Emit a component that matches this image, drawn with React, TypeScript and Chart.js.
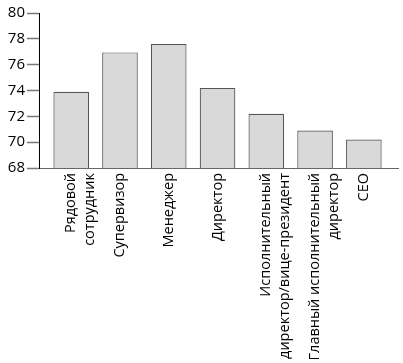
import React, { useEffect, useRef } from "react";
import { Chart, registerables } from "chart.js";

Chart.register(...registerables);

const categories: (string | string[])[] = [
  ["Рядовой", "сотрудник"],
  "Супервизор",
  "Менеджер",
  "Директор",
  ["Исполнительный", "директор/вице-президент"],
  ["Главный исполнительный", "директор"],
  "CEO",
];
const values = [73.9, 76.95, 77.6, 74.2, 72.2, 70.9, 70.2];
const yTicks = [68, 70, 72, 74, 76, 78, 80];

const LINE_H = 19;

// Centre multi-line rotated labels on their bars (Chart.js starts the first line at the tick).
const centerLabels = {
  id: "centerLabels",
  beforeDatasetsDraw(chart: any) {
    const scale = chart.scales.x;
    const items = scale.getLabelItems();
    items.forEach((it: any) => {
      if (it._centred) return;
      const n = Array.isArray(it.label) ? it.label.length : 1;
      it.textOffset -= ((n - 1) * LINE_H) / 2;
      it._centred = true;
    });
  },
};

export default function App() {
  const ref = useRef<HTMLCanvasElement>(null);
  useEffect(() => {
    if (!ref.current) return;
    const chart = new Chart(ref.current, {
      type: "bar",
      data: {
        datasets: [
          {
            data: values.map((v, i) => ({ x: i, y: v })),
            backgroundColor: "#d9d9d9",
            borderColor: "#555",
            borderWidth: 1.2,
            categoryPercentage: 1,
            barPercentage: 0.73,
          },
        ],
      },
      options: {
        animation: false,
        responsive: false,
        layout: { padding: { top: 13, right: 5, left: 0, bottom: 0 } },
        plugins: { legend: { display: false }, tooltip: { enabled: false } },
        scales: {
          x: {
            type: "linear",
            offset: false,
            min: -0.66,
            max: 6.7,
            afterBuildTicks: (axis: any) => {
              axis.ticks = categories.map((_, i) => ({ value: i }));
            },
            afterFit: (scale: any) => {
              scale.height = 195;
            },
            grid: { display: false, drawTicks: false, offset: false },
            border: { color: "#666", width: 1 },
            ticks: {
              autoSkip: false,
              minRotation: 90,
              maxRotation: 90,
              padding: 5,
              color: "#000",
              font: { family: "'Open Sans'", size: 14.5, lineHeight: LINE_H / 14.5 },
              callback: (v: any) => categories[Math.round(Number(v))] as any,
            },
          },
          y: {
            min: 68,
            max: 80,
            afterBuildTicks: (axis: any) => {
              axis.ticks = yTicks.map((v) => ({ value: v }));
            },
            afterFit: (scale: any) => {
              scale.width = 39;
            },
            grid: { drawOnChartArea: false, tickLength: 12, tickColor: "#777", tickWidth: 1.5 },
            border: { color: "#000", width: 1 },
            ticks: { padding: 2, color: "#000", font: { family: "'Open Sans'", size: 15 } },
          },
        },
      },
      plugins: [centerLabels],
    });
    return () => chart.destroy();
  }, []);
  return (
    <div style={{ position: "absolute", left: 0, top: 0, width: 403, height: 363 }}>
      <canvas ref={ref} width={403} height={363} style={{ width: 403, height: 363 }} />
    </div>
  );
}
